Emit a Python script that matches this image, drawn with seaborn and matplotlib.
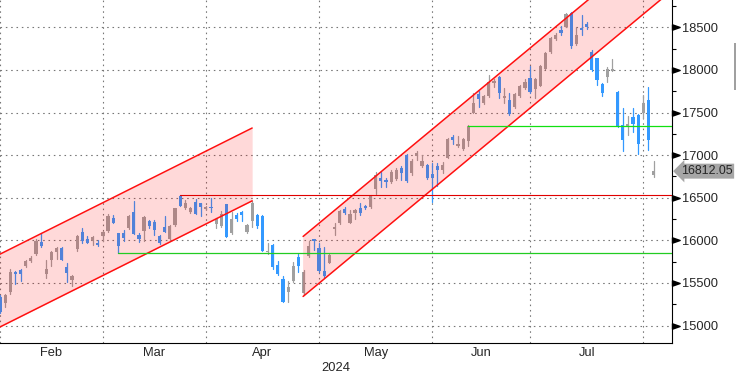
import numpy as np
import pandas as pd
import matplotlib
matplotlib.use("Agg")
import matplotlib.pyplot as plt
import seaborn as sns
from matplotlib.path import Path
from matplotlib.patches import Rectangle

# ---------------- data (daily candles, trading-day index) ----------------
opens = [15340,15260,15395,15624,15647,15694,15756,15841,15981,15601,
         15771,15860,15911,15686,15531,15899,16101,16015,16004,15973,
         16047,16112,16266,16082,16090,16144,16332,16059,16105,16227,
         16215,16051,16156,16012,16176,16520,16383,16332,16449,16434,
         16363,16391,16189,16169,16422,16091,16294,16333,16103,16228,
         16294,16286,15858,15947,15714,15547,15391,15519,15807,15379,
         15819,16014,15908,15645,15739,16134,16198,16364,16209,16318,
         16384,16399,16391,16597,16733,16713,16686,16725,16852,16996,
         16786,16988,16872,16879,16774,16872,16825,16969,17210,17105,
         17074,17160,17500,17717,17606,17697,17850,17921,17673,17646,
         17567,17697,17783,17900,17777,17815,18015,18208,18362,18469,
         18508,18669,18308,18488,18538,18205,18134,17840,17920,17988,
         17746,17356,17328,17453,17473,17492,17648,16770]
highs = [15360,15376,15667,15640,15663,15771,15818,16012,16081,15771,
         15880,15926,15919,15736,15589,16066,16151,16054,16054,16004,
         16112,16314,16293,16090,16121,16293,16457,16082,16285,16238,
         16238,16059,16285,16176,16383,16533,16473,16395,16480,16441,
         16402,16492,16267,16344,16430,16337,16325,16344,16189,16461,
         16305,16294,15975,15955,15761,15586,15527,15741,15839,15652,
         15994,16021,15966,15926,15841,16201,16358,16395,16353,16364,
         16442,16411,16531,16802,16802,16733,16829,16849,16872,17008,
         16949,17043,17000,16891,16911,16911,16918,17202,17241,17230,
         17202,17358,17725,17752,17705,17941,17894,17929,17783,17732,
         17724,17823,17894,18040,17900,18054,18208,18385,18431,18515,
         18662,18681,18508,18642,18565,18236,18145,17850,18030,18128,
         17758,17551,17461,17551,17481,17707,17797,16926]
lows = [15150,15221,15376,15484,15523,15686,15748,15833,15926,15562,
        15694,15783,15764,15512,15461,15880,15965,15965,15950,15934,
        15990,16101,16199,15852,15992,16129,16070,15980,15996,16148,
        16066,15953,16098,16000,16168,16402,16363,16316,16305,16285,
        16352,16337,16150,16161,16041,16080,16228,16228,16091,16158,
        16150,15870,15839,15663,15597,15274,15274,15508,15625,15372,
        15807,15885,15633,15567,15731,16064,16190,16306,16198,16248,
        16298,16364,16384,16547,16624,16624,16674,16713,16713,16680,
        16772,16940,16864,16724,16451,16638,16786,16965,17125,17097,
        17066,17113,17490,17567,17598,17685,17803,17665,17606,17476,
        17555,17685,17772,17730,17669,17808,18008,18200,18354,18412,
        18500,18258,18296,18412,18477,17992,17820,17692,17856,17982,
        17328,17043,17238,17277,17016,17434,17063,16742]
closes = [15160,15364,15628,15601,15608,15756,15795,15988,15934,15667,
          15860,15907,15771,15616,15581,16054,15988,15973,16035,15946,
          16093,16287,16199,15934,16023,16285,16070,16012,16273,16168,
          16117,15965,16098,16168,16375,16402,16441,16383,16305,16395,
          16391,16379,16247,16305,16041,16247,16247,16298,16181,16442,
          16169,15877,15877,15683,15605,15282,15449,15702,15702,15625,
          15936,15994,15645,15583,15829,16154,16350,16318,16306,16353,
          16326,16376,16519,16771,16694,16682,16802,16829,16794,16700,
          16930,17027,16930,16735,16735,16825,16879,17195,17175,17136,
          17195,17340,17610,17658,17693,17862,17870,17724,17697,17488,
          17717,17811,17862,17740,17892,18046,18200,18373,18412,18431,
          18654,18285,18412,18469,18508,17996,17884,17728,18010,18008,
          17328,17172,17363,17367,17133,17609,17180,16812.05]

month_labels = ["Feb", "Mar", "Apr", "May", "Jun", "Jul"]
month_start_idx = [0, 20, 40, 62, 84, 103, 125]
year_label = "2024"
y_ticks = [15000, 15500, 16000, 16500, 17000, 17500, 18000, 18500]

# trend channels (index, upper, lower)
ch1_idx = [-6, 49]
ch1_upper = [15657, 17318]
ch1_lower = [14803, 16464]
ch2_idx = [58.9, 135]
ch2_upper = [16046, 19859]
ch2_lower = [15342, 19155]

# horizontal levels (start index, level, colour)
hl_start = [35, 23, 91]
hl_level = [16533, 15852, 17346]
hl_color = ["#e00000", "#22cc22", "#11e011"]

UP = "#a0a0a0"
DOWN = "#3399ff"

# ---------------- figure ----------------
sns.set_style("white")
plt.rcParams["font.family"] = ["Liberation Sans", "DejaVu Sans"]
plt.rcParams["font.size"] = 9.3

fig = plt.figure(figsize=(7.36, 3.77), dpi=100)
ax = fig.add_axes([0, 1 - 343 / 377, 672 / 736, 343 / 377])

n = len(opens)
idx = np.arange(n)
o = np.array(opens, float); h = np.array(highs, float)
l = np.array(lows, float); c = np.array(closes, float)
direction = np.where(c >= o, "up", "down")

# wicks via seaborn
wick_df = pd.DataFrame({
    "idx": np.repeat(idx, 2),
    "price": np.column_stack([l, h]).ravel(),
    "dir": np.repeat(direction, 2),
})
sns.lineplot(data=wick_df, x="idx", y="price", units="idx", estimator=None,
             hue="dir", palette={"up": UP, "down": DOWN}, legend=False,
             lw=0.9, sort=False, ax=ax, zorder=2)

# bodies
body_bottom = np.minimum(o, c)
body_h = np.maximum(np.abs(c - o), 12)
ax.bar(idx, body_h, bottom=body_bottom, width=0.62,
       color=[UP if d == "up" else DOWN for d in direction], lw=0, zorder=2.5)

# channels
for ci, cu, cl in [(ch1_idx, ch1_upper, ch1_lower), (ch2_idx, ch2_upper, ch2_lower)]:
    ax.fill_between(ci, cl, cu, color="red", alpha=0.15, lw=0, zorder=3)
    ch_df = pd.DataFrame({"idx": ci * 2, "price": cu + cl,
                          "line": ["u", "u", "l", "l"]})
    sns.lineplot(data=ch_df, x="idx", y="price", units="line", estimator=None,
                 color="#ff1010", lw=1.1, ax=ax, zorder=4, sort=False)

# horizontal levels
x_end = 140
for s, lv, col in zip(hl_start, hl_level, hl_color):
    ax.plot([s, x_end], [lv, lv], color=col, lw=0.9 if col != "#e00000" else 0.8, zorder=4)

# axes limits
ax.set_xlim((0 + 0.5) / 5.15, (672 + 0.5) / 5.15)
ax.set_ylim(14796, 18820)

# grid
for yv in y_ticks:
    ax.axhline(yv, color="#777777", lw=0.8, ls=(0, (1.4, 3.4)), zorder=0.5)
for xv in month_start_idx:
    ax.axvline(xv, color="#777777", lw=0.8, ls=(0, (1.4, 3.4)), zorder=0.5)

# spines
for s in ["left", "top"]:
    ax.spines[s].set_visible(False)
for s in ["right", "bottom"]:
    ax.spines[s].set_color("black")
    ax.spines[s].set_linewidth(0.8)

# x axis
ax.set_xticks(month_start_idx)
ax.set_xticklabels([])
mids = [(month_start_idx[i] + month_start_idx[i + 1]) / 2 for i in range(len(month_labels))]
ax.set_xticks(mids, minor=True)
ax.set_xticklabels(month_labels, minor=True)
ax.tick_params(axis="x", which="major", length=3, width=0.8, color="black", direction="out")
ax.tick_params(axis="x", which="minor", length=0, pad=3, labelsize=9.3)
ax.set_xlabel(year_label, fontsize=9.3, labelpad=2)

# y axis on right
ax.yaxis.tick_right()
ax.set_yticks(y_ticks)
ax.set_yticklabels([str(v) for v in y_ticks])
ax.set_yticks([v + 250 for v in y_ticks], minor=True)
ax.tick_params(axis="y", which="major", length=0, pad=7.3, labelsize=9.3)
ax.tick_params(axis="y", which="minor", length=3, width=0.8, color="black", direction="out")
ax.set_ylabel("")

tri = Path([(0, -0.35), (1, 0), (0, 0.35), (0, -0.35)],
           [Path.MOVETO, Path.LINETO, Path.LINETO, Path.CLOSEPOLY])
ax.plot(np.ones(len(y_ticks)), y_ticks, ls="none", marker=tri, ms=11,
        color="black", transform=ax.get_yaxis_transform(), clip_on=False, zorder=6)

# last price label
last = closes[-1]
ax.annotate(f"{last:.2f}", xy=(1, last), xycoords=ax.get_yaxis_transform(),
            xytext=(6.5, 0), textcoords="offset points", va="center", ha="left",
            fontsize=8.9, annotation_clip=False,
            bbox=dict(boxstyle="larrow,pad=0.12", fc="#a6a6a6", ec="none"))

# small gray mark at right edge
fig.add_artist(Rectangle((733.5 / 736, 1 - 90 / 377), 2.5 / 736, 47 / 377,
                         transform=fig.transFigure, color="#a0a0a0", lw=0))

fig.savefig("out.png", dpi=100)
